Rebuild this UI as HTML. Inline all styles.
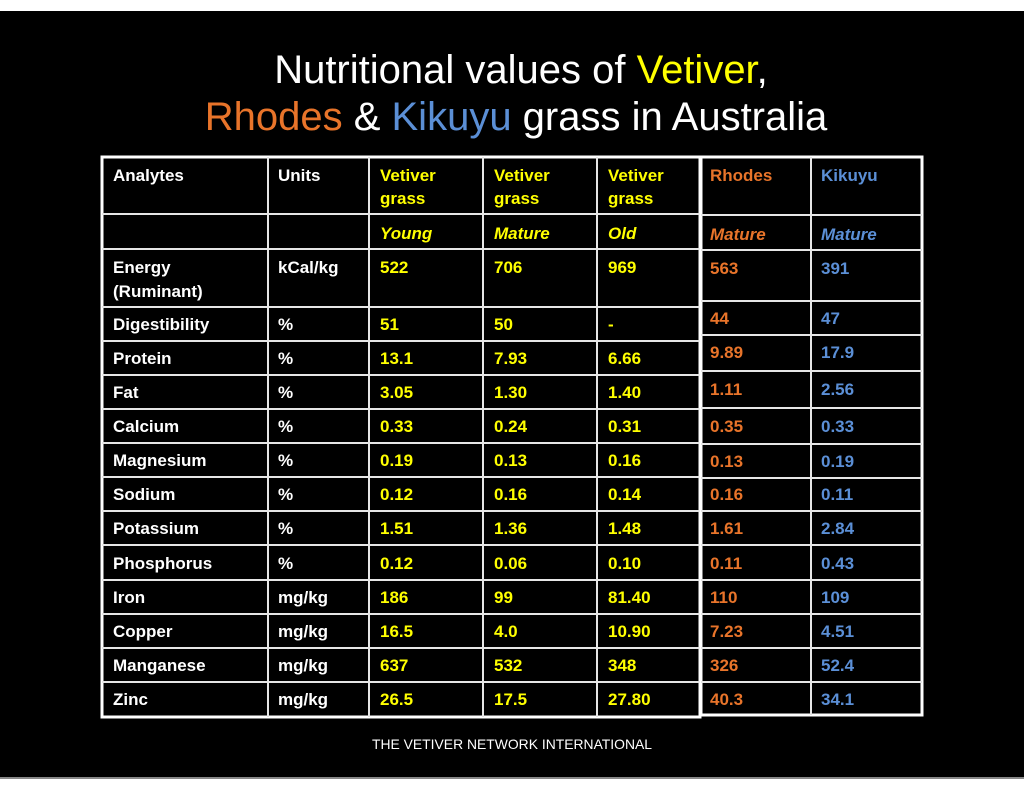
<!DOCTYPE html>
<html><head><meta charset="utf-8"><style>
html,body{margin:0;padding:0;background:#fff}
svg{display:block}
text{font-family:"Liberation Sans",Arial,sans-serif}
.b{font-weight:bold;font-size:17px}
</style></head><body>
<svg width="1024" height="791" xmlns="http://www.w3.org/2000/svg">
<rect x="0" y="11" width="1024" height="767" fill="#000"/>
<rect x="0" y="777" width="1024" height="2" fill="#888"/>
<text x="521" y="83" font-size="40" fill="#fff" text-anchor="middle">Nutritional values of <tspan fill="#ffff00">Vetiver</tspan>,</text>
<text x="516" y="130" font-size="40" fill="#fff" text-anchor="middle"><tspan fill="#e8742a">Rhodes</tspan> &amp; <tspan fill="#5b8fd6">Kikuyu</tspan> grass in Australia</text>
<g stroke="#e6e6e6" stroke-width="2" fill="none">
<rect x="102" y="157" width="598" height="560" stroke-width="3" stroke="#fff"/>
<line x1="268" y1="157" x2="268" y2="717"/><line x1="369" y1="157" x2="369" y2="717"/>
<line x1="483" y1="157" x2="483" y2="717"/><line x1="597" y1="157" x2="597" y2="717"/>
<line x1="102" y1="214" x2="700" y2="214"/><line x1="102" y1="249" x2="700" y2="249"/>
<line x1="102" y1="307" x2="700" y2="307"/><line x1="102" y1="341" x2="700" y2="341"/>
<line x1="102" y1="375" x2="700" y2="375"/><line x1="102" y1="409" x2="700" y2="409"/>
<line x1="102" y1="443" x2="700" y2="443"/><line x1="102" y1="477" x2="700" y2="477"/>
<line x1="102" y1="511" x2="700" y2="511"/><line x1="102" y1="545" x2="700" y2="545"/>
<line x1="102" y1="580" x2="700" y2="580"/><line x1="102" y1="614" x2="700" y2="614"/>
<line x1="102" y1="648" x2="700" y2="648"/><line x1="102" y1="682" x2="700" y2="682"/>
<rect x="701" y="157" width="221" height="558" stroke-width="3" stroke="#fff"/>
<line x1="811" y1="157" x2="811" y2="715"/>
<line x1="701" y1="215" x2="922" y2="215"/><line x1="701" y1="250" x2="922" y2="250"/>
<line x1="701" y1="301" x2="922" y2="301"/><line x1="701" y1="335" x2="922" y2="335"/>
<line x1="701" y1="371" x2="922" y2="371"/><line x1="701" y1="408" x2="922" y2="408"/>
<line x1="701" y1="444" x2="922" y2="444"/><line x1="701" y1="478" x2="922" y2="478"/>
<line x1="701" y1="511" x2="922" y2="511"/><line x1="701" y1="545" x2="922" y2="545"/>
<line x1="701" y1="580" x2="922" y2="580"/><line x1="701" y1="614" x2="922" y2="614"/>
<line x1="701" y1="648" x2="922" y2="648"/><line x1="701" y1="682" x2="922" y2="682"/>
</g>
<g class="b" fill="#fff">
<text x="113" y="181" class="b">Analytes</text><text x="278" y="181" class="b">Units</text>
<text x="113" y="273" class="b">Energy</text><text x="113" y="297" class="b">(Ruminant)</text>
<text x="278" y="273" class="b">kCal/kg</text>
<text x="113" y="330" class="b">Digestibility</text><text x="278" y="330" class="b">%</text>
<text x="113" y="364" class="b">Protein</text><text x="278" y="364" class="b">%</text>
<text x="113" y="398" class="b">Fat</text><text x="278" y="398" class="b">%</text>
<text x="113" y="432" class="b">Calcium</text><text x="278" y="432" class="b">%</text>
<text x="113" y="466" class="b">Magnesium</text><text x="278" y="466" class="b">%</text>
<text x="113" y="500" class="b">Sodium</text><text x="278" y="500" class="b">%</text>
<text x="113" y="534" class="b">Potassium</text><text x="278" y="534" class="b">%</text>
<text x="113" y="569" class="b">Phosphorus</text><text x="278" y="569" class="b">%</text>
<text x="113" y="603" class="b">Iron</text><text x="278" y="603" class="b">mg/kg</text>
<text x="113" y="637" class="b">Copper</text><text x="278" y="637" class="b">mg/kg</text>
<text x="113" y="671" class="b">Manganese</text><text x="278" y="671" class="b">mg/kg</text>
<text x="113" y="705" class="b">Zinc</text><text x="278" y="705" class="b">mg/kg</text>
</g>
<g fill="#ffff00">
<text x="380" y="181" class="b">Vetiver</text><text x="380" y="204" class="b">grass</text>
<text x="494" y="181" class="b">Vetiver</text><text x="494" y="204" class="b">grass</text>
<text x="608" y="181" class="b">Vetiver</text><text x="608" y="204" class="b">grass</text>
<text x="380" y="239" class="b" font-style="italic">Young</text>
<text x="494" y="239" class="b" font-style="italic">Mature</text>
<text x="608" y="239" class="b" font-style="italic">Old</text>
<text x="380" y="273" class="b">522</text><text x="494" y="273" class="b">706</text><text x="608" y="273" class="b">969</text>
<text x="380" y="330" class="b">51</text><text x="494" y="330" class="b">50</text><text x="608" y="330" class="b">-</text>
<text x="380" y="364" class="b">13.1</text><text x="494" y="364" class="b">7.93</text><text x="608" y="364" class="b">6.66</text>
<text x="380" y="398" class="b">3.05</text><text x="494" y="398" class="b">1.30</text><text x="608" y="398" class="b">1.40</text>
<text x="380" y="432" class="b">0.33</text><text x="494" y="432" class="b">0.24</text><text x="608" y="432" class="b">0.31</text>
<text x="380" y="466" class="b">0.19</text><text x="494" y="466" class="b">0.13</text><text x="608" y="466" class="b">0.16</text>
<text x="380" y="500" class="b">0.12</text><text x="494" y="500" class="b">0.16</text><text x="608" y="500" class="b">0.14</text>
<text x="380" y="534" class="b">1.51</text><text x="494" y="534" class="b">1.36</text><text x="608" y="534" class="b">1.48</text>
<text x="380" y="569" class="b">0.12</text><text x="494" y="569" class="b">0.06</text><text x="608" y="569" class="b">0.10</text>
<text x="380" y="603" class="b">186</text><text x="494" y="603" class="b">99</text><text x="608" y="603" class="b">81.40</text>
<text x="380" y="637" class="b">16.5</text><text x="494" y="637" class="b">4.0</text><text x="608" y="637" class="b">10.90</text>
<text x="380" y="671" class="b">637</text><text x="494" y="671" class="b">532</text><text x="608" y="671" class="b">348</text>
<text x="380" y="705" class="b">26.5</text><text x="494" y="705" class="b">17.5</text><text x="608" y="705" class="b">27.80</text>
</g>
<g fill="#e8742a">
<text x="710" y="181" class="b">Rhodes</text>
<text x="710" y="240" class="b" font-style="italic">Mature</text>
<text x="710" y="274" class="b">563</text><text x="710" y="324" class="b">44</text>
<text x="710" y="358" class="b">9.89</text><text x="710" y="395" class="b">1.11</text>
<text x="710" y="432" class="b">0.35</text><text x="710" y="467" class="b">0.13</text>
<text x="710" y="500" class="b">0.16</text><text x="710" y="534" class="b">1.61</text>
<text x="710" y="569" class="b">0.11</text><text x="710" y="603" class="b">110</text>
<text x="710" y="637" class="b">7.23</text><text x="710" y="671" class="b">326</text>
<text x="710" y="705" class="b">40.3</text>
</g>
<g fill="#5b8fd6">
<text x="821" y="181" class="b">Kikuyu</text>
<text x="821" y="240" class="b" font-style="italic">Mature</text>
<text x="821" y="274" class="b">391</text><text x="821" y="324" class="b">47</text>
<text x="821" y="358" class="b">17.9</text><text x="821" y="395" class="b">2.56</text>
<text x="821" y="432" class="b">0.33</text><text x="821" y="467" class="b">0.19</text>
<text x="821" y="500" class="b">0.11</text><text x="821" y="534" class="b">2.84</text>
<text x="821" y="569" class="b">0.43</text><text x="821" y="603" class="b">109</text>
<text x="821" y="637" class="b">4.51</text><text x="821" y="671" class="b">52.4</text>
<text x="821" y="705" class="b">34.1</text>
</g>
<text x="512" y="749" font-size="14" fill="#fff" text-anchor="middle" textLength="280" lengthAdjust="spacingAndGlyphs">THE VETIVER NETWORK INTERNATIONAL</text>
</svg>
</body></html>
